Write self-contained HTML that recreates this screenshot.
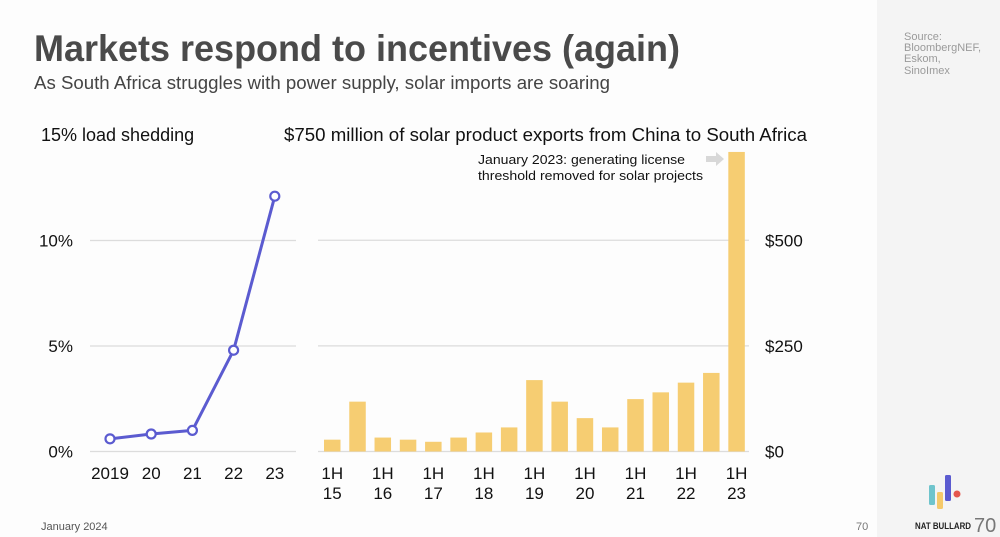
<!DOCTYPE html>
<html><head><meta charset="utf-8"><style>
html,body{margin:0;padding:0;background:#fdfdfd;}
svg{display:block;font-family:"Liberation Sans",sans-serif;}
</style></head><body>
<svg id="chart" width="1000" height="537" viewBox="0 0 1000 537">
<rect x="0" y="0" width="1000" height="537" fill="#fdfdfd"/>
<rect x="877" y="0" width="123" height="537" fill="#f4f4f4"/>
<text x="34" y="61" font-size="37" font-weight="bold" fill="#4a4a4a" textLength="646" lengthAdjust="spacingAndGlyphs">Markets respond to incentives (again)</text>
<text x="34" y="89" font-size="18" fill="#444" textLength="576" lengthAdjust="spacingAndGlyphs">As South Africa struggles with power supply, solar imports are soaring</text>
<g font-size="11" fill="#9a9a9a">
<text x="904" y="40">Source:</text><text x="904" y="51">BloombergNEF,</text><text x="904" y="62">Eskom,</text><text x="904" y="74">SinoImex</text>
</g>
<text x="41" y="141" font-size="18" fill="#111">15% load shedding</text>
<text x="284" y="141" font-size="18" fill="#111" textLength="523" lengthAdjust="spacingAndGlyphs">$750 million of solar product exports from China to South Africa</text>
<g id="left"></g>
<g id="right"></g>
<text x="478" y="164" font-size="13" fill="#111" textLength="207" lengthAdjust="spacingAndGlyphs">January 2023: generating license</text>
<text x="478" y="180" font-size="13" fill="#111" textLength="225" lengthAdjust="spacingAndGlyphs">threshold removed for solar projects</text>
<path d="M706,156 h10 v-4 l8,7 l-8,7 v-4 h-10z" fill="#d8d8d8"/>
<text x="41" y="530" font-size="11" fill="#555">January 2024</text>
<text x="856" y="530" font-size="11" fill="#777">70</text>
<g>
<rect x="929" y="485" width="6" height="20" rx="1.5" fill="#6fc4cc"/>
<rect x="937" y="492" width="6" height="17" rx="1.5" fill="#f5c96a"/>
<rect x="945" y="475" width="6" height="26" rx="1.5" fill="#5b5bd0"/>
<circle cx="957" cy="494" r="3.5" fill="#e5574f"/>
</g>
<text x="915" y="529" font-size="9" font-weight="bold" fill="#222" textLength="56" lengthAdjust="spacingAndGlyphs">NAT BULLARD</text>
<text x="974" y="532" font-size="20" fill="#777">70</text>
</svg>
<script>
const years = ["2019","20","21","22","23"];
const loadShedding = [0.6, 0.83, 1.0, 4.8, 12.1];
const leftTicks = [0, 5, 10];
const leftTickLabels = ["0%","5%","10%"];
const periods = ["1H15","2H15","1H16","2H16","1H17","2H17","1H18","2H18","1H19","2H19","1H20","2H20","1H21","2H21","1H22","2H22","1H23"];
const exportsUSDm = [28,118,33,28,23,33,45,57,169,118,79,57,124,140,163,186,709];
const rightTicks = [0, 250, 500];
const rightTickLabels = ["$0","$250","$500"];

const NS = "http://www.w3.org/2000/svg";
function mk(tag, attrs, parent){const e=document.createElementNS(NS,tag);for(const k in attrs)e.setAttribute(k,attrs[k]);parent.appendChild(e);return e;}
const base = 451.5;
const yL = v => base - v * 21.1;
const xL = i => 110 + i * 41.2;
const yR = v => base - v * 0.4225;
const xR = i => 324 + i * 25.27;
const bw = 16.5;

const L = document.getElementById('left');
leftTicks.forEach((t,i)=>{
  const g = mk('line',{x1:90,x2:296,y1:yL(t),y2:yL(t),stroke:'#dcdcdc','stroke-width':1.2},L);
  
  
  const tx = mk('text',{x:73,y:yL(t)+6,'font-size':17,fill:'#111','text-anchor':'end'},L);
  tx.textContent = leftTickLabels[i];
  
  
});
years.forEach((y,i)=>{
  const tx = mk('text',{x:xL(i),y:479,'font-size':17,fill:'#111','text-anchor':'middle'},L);
  tx.textContent = y;
  
  
});
const pl = mk('polyline',{points:loadShedding.map((v,i)=>xL(i)+','+yL(v)).join(' '),fill:'none',stroke:'#5b5bd0','stroke-width':3,'stroke-linejoin':'round'},L);


loadShedding.forEach((v,i)=>{
  const c = mk('circle',{cx:xL(i),cy:yL(v),r:4.5,fill:'#fff',stroke:'#5b5bd0','stroke-width':2.2},L);
  
  
});

const R = document.getElementById('right');
rightTicks.forEach((t,i)=>{
  const g = mk('line',{x1:318,x2:749,y1:yR(t),y2:yR(t),stroke:'#dcdcdc','stroke-width':1.2},R);
  
  
  const tx = mk('text',{x:765,y:yR(t)+6,'font-size':17,fill:'#111'},R);
  tx.textContent = rightTickLabels[i];
  
  
});
exportsUSDm.forEach((v,i)=>{
  const r = mk('rect',{x:xR(i),y:yR(v),width:bw,height:base-yR(v),fill:'#f6cd72'},R);
  
  
  if(periods[i].startsWith('1H')){
    const t1 = mk('text',{x:xR(i)+bw/2,y:479,'font-size':17,fill:'#111','text-anchor':'middle'},R);
    t1.textContent = '1H';
    
    
    const t2 = mk('text',{x:xR(i)+bw/2,y:499,'font-size':17,fill:'#111','text-anchor':'middle'},R);
    t2.textContent = periods[i].slice(2);
    
    
  }
});
</script>
</body></html>
